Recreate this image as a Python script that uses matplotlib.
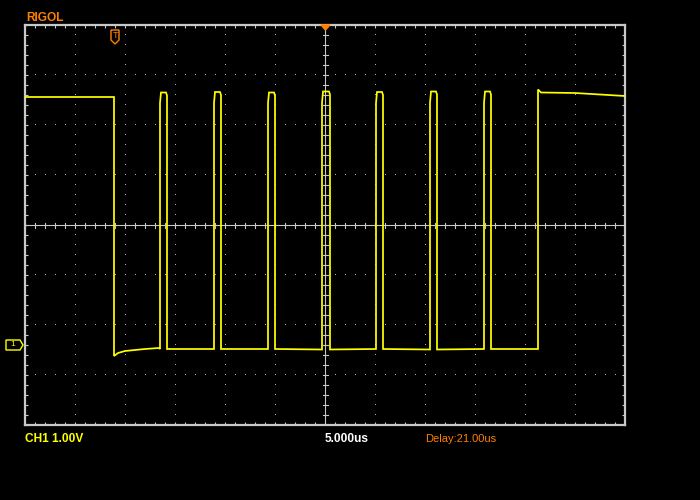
import matplotlib
matplotlib.use("Agg")
import matplotlib.pyplot as plt
from matplotlib.patches import Polygon
import numpy as np

# time in us relative to trigger, voltage in V (CH1 1.00V/div, 5.000us/div, delay 21us)
t_start, t_end = -9.0, 51.0
v_bottom, v_top = -1.6, 6.4
pre_level = 4.96
first_fall = -0.1
first_low_t = [-0.1, 0.3, 1.0, 2.0, 3.0, 4.4]
first_low_v = [-0.22, -0.16, -0.12, -0.10, -0.08, -0.06]
pulse_rise = [4.5, 9.9, 15.3, 20.7, 26.1, 31.5, 36.9]
pulse_fall = [5.2, 10.6, 16.0, 21.5, 26.8, 32.2, 37.6]
pulse_top = [5.05, 5.06, 5.05, 5.07, 5.06, 5.07, 5.07]
low_level = [-0.08, -0.08, -0.08, -0.09, -0.08, -0.09, -0.08]
final_t = [42.3, 42.6, 46.0, 51.0]
final_v = [5.11, 5.05, 5.04, 4.98]

labels = {"ch": "CH1 1.00V", "tb": "5.000us", "delay": "Delay:21.00us"}

YEL = "#ffff00"
ORG = "#ff7f00"
GRAY = "#c8c8c8"
DOT = "#b0b0b0"
FONT = ["Liberation Sans", "DejaVu Sans"]

fig = plt.figure(figsize=(7, 5), dpi=100, facecolor="black")
ax = fig.add_axes([25 / 700, 75 / 500, 600 / 700, 400 / 500], facecolor="black")
ax.set_xlim(t_start, t_end)
ax.set_ylim(v_bottom, v_top)

for s in ax.spines.values():
    s.set_color(GRAY)
    s.set_linewidth(1.6)

minor_x = np.arange(t_start, t_end + 0.01, 1.0)
minor_y = np.arange(v_bottom, v_top + 0.01, 0.2)
major_x = np.arange(t_start, t_end + 0.01, 5.0)
major_y = np.arange(v_bottom, v_top + 0.01, 1.0)
cx, cy = 21.0, 2.4

ax.set_xticks(minor_x)
ax.set_yticks(minor_y)
ax.tick_params(direction="in", length=2.5, width=0.8, color=GRAY,
               top=True, right=True, labelbottom=False, labelleft=False)

# dotted grid
for xv in major_x[1:-1]:
    if abs(xv - cx) > 0.01:
        ax.plot([xv] * len(minor_y), minor_y, ",", color=DOT)
for yv in major_y[1:-1]:
    if abs(yv - cy) > 0.01:
        ax.plot(minor_x, [yv] * len(minor_x), ",", color=DOT)

# center cross with ticks
ax.axvline(cx, color=GRAY, lw=0.8)
ax.axhline(cy, color=GRAY, lw=0.8)
for xv in minor_x:
    ax.plot([xv, xv], [cy - 0.05, cy + 0.05], color=GRAY, lw=0.8)
for yv in minor_y:
    ax.plot([cx - 0.25, cx + 0.25], [yv, yv], color=GRAY, lw=0.8)

# waveform
tt = [t_start, first_fall]
vv = [pre_level, pre_level]
tt += first_low_t
vv += first_low_v
for r, f, top, lo in zip(pulse_rise, pulse_fall, pulse_top, low_level):
    tt += [r, r, r + 0.1, f - 0.1, f, f]
    vv += [lo, 4.84, top, top, top - 0.06, lo]
tt += [final_t[0]] + final_t
vv += [low_level[-1]] + final_v
ax.plot(tt, vv, color=YEL, lw=1.25, solid_joinstyle="miter", zorder=5)


def px(x, y):
    return (x / 700, 1 - y / 500)


# trigger position marker
tpts = [px(111, 30), px(119, 30), px(119, 40), px(115, 44), px(111, 40)]
fig.patches.append(Polygon(tpts, closed=True, fill=False, edgecolor=ORG, lw=1,
                           transform=fig.transFigure))
fig.text(*px(115.2, 36), "T", color=ORG, fontsize=6.5, ha="center", va="center",
         family=FONT)

# center top marker
cpts = [px(321, 25), px(330, 25), px(325.5, 30)]
fig.patches.append(Polygon(cpts, closed=True, color=ORG, transform=fig.transFigure))

# ground marker
gpts = [px(6, 340), px(20, 340), px(23, 345), px(20, 350), px(6, 350)]
fig.patches.append(Polygon(gpts, closed=True, fill=False, edgecolor=YEL, lw=1,
                           transform=fig.transFigure))
fig.text(*px(12.5, 345), "1", color=YEL, fontsize=6, ha="center", va="center",
         family=FONT)

fig.text(*px(26, 21), "RIGOL", color=ORG, fontsize=8.6, fontweight="bold",
         va="baseline", family=FONT)
fig.text(*px(25, 442), labels["ch"], color=YEL, fontsize=8.6, fontweight="bold",
         va="baseline", family=FONT)
fig.text(*px(325, 442), labels["tb"], color="white", fontsize=8.6,
         fontweight="bold", va="baseline", family=FONT)
fig.text(*px(425, 442), labels["delay"], color=ORG, fontsize=8, va="baseline",
         family=FONT)

fig.savefig("out.png", dpi=100, facecolor="black")
